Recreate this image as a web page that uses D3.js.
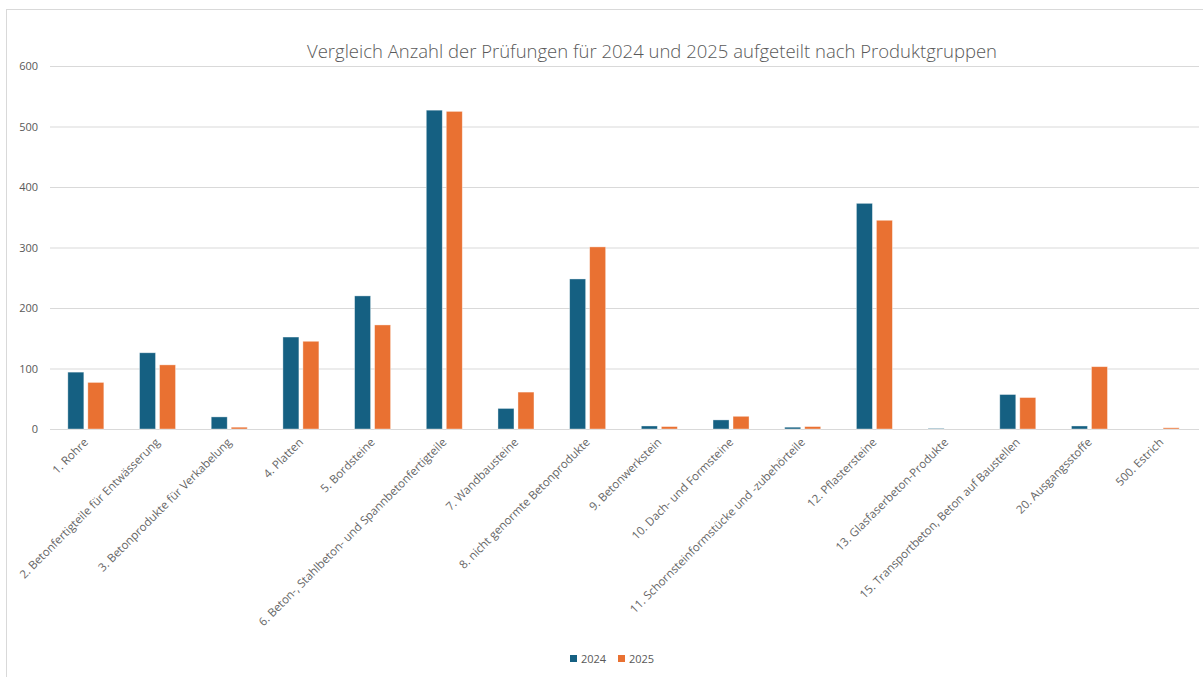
<!DOCTYPE html>
<html><head><meta charset="utf-8">
<script src="https://cdn.jsdelivr.net/npm/d3@7"></script>
<style>body{margin:0;background:#fff;}svg{display:block;font-family:"Open Sans",sans-serif;}</style>
</head><body><svg id="c" width="1203" height="677"></svg>
<script>
const categories = ["1. Rohre","2. Betonfertigteile für Entwässerung","3. Betonprodukte für Verkabelung","4. Platten","5. Bordsteine","6. Beton-, Stahlbeton- und Spannbetonfertigteile","7. Wandbausteine","8. nicht genormte Betonprodukte","9. Betonwerkstein","10. Dach- und Formsteine","11. Schornsteinformstücke und -zubehörteile","12. Pflastersteine","13. Glasfaserbeton-Produkte","15. Transportbeton, Beton auf Baustellen","20. Ausgangsstoffe","500. Estrich"];
const values2024 = [94,126,20,152,220,527,34,248,5,15,3,373,1,57,5,0];
const values2025 = [77,106,3,145,172,525,61,301,4,21,4,345,0,52,103,2];
const seriesNames = ["2024","2025"];
const yTicks = [0,100,200,300,400,500,600];
const title = "Vergleich Anzahl der Prüfungen für 2024 und 2025 aufgeteilt nach Produktgruppen";
const colors = ["#156082","#E97132"];

(function(){
const svg = d3.select("#c");
svg.append("rect").attr("x",6.5).attr("y",9.5).attr("width",1210).attr("height",700)
  .attr("fill","#fff").attr("stroke","#d9d9d9");

const mLeft=50, mRight=1197, mTop=66, mBottom=429;
const x = d3.scaleBand().domain(categories).range([mLeft,mRight]).paddingInner(0).paddingOuter(0);
const x1 = d3.scaleBand().domain(seriesNames).range([x.bandwidth()/2-18, x.bandwidth()/2+18]).paddingInner(0.2);
const y = d3.scaleLinear().domain([0,600]).range([mBottom,mTop]);

svg.append("text").attr("x",652).attr("y",58).attr("text-anchor","middle")
  .attr("font-size",18.5).attr("font-weight",300).attr("fill","#595959").text(title);

const ya = svg.append("g").attr("transform",`translate(${mLeft},0)`)
  .call(d3.axisLeft(y).tickValues(yTicks).tickSize(-(1199-mLeft)).tickPadding(12));
ya.select(".domain").remove();
ya.selectAll(".tick line").attr("stroke","#d9d9d9");
ya.selectAll(".tick text").attr("fill","#595959").attr("font-size",11).attr("font-family","'Open Sans',sans-serif");

const data = categories.map((c,i)=>({c, v:[values2024[i],values2025[i]]}));
const g = svg.append("g");
const grp = g.selectAll("g").data(data).join("g").attr("transform",d=>`translate(${x(d.c)},0)`);
grp.selectAll("rect").data(d=>d.v.map((v,j)=>({s:seriesNames[j],v,j}))).join("rect")
  .attr("x",d=>x1(d.s)).attr("width",x1.bandwidth())
  .attr("y",d=>y(d.v)).attr("height",d=>y(0)-y(d.v))
  .attr("fill",d=>colors[d.j]).attr("stroke","#ffffff").attr("stroke-opacity",0.5).attr("stroke-width",0.75);

const xa = svg.append("g").attr("transform",`translate(0,${mBottom})`)
  .call(d3.axisBottom(x).tickSize(0).tickPadding(0));
xa.select(".domain").remove();
xa.selectAll(".tick text").attr("fill","#666666").attr("font-size",11.5).attr("font-family","'Open Sans',sans-serif")
  .attr("text-anchor","end").attr("dy",0).attr("transform","translate(3,14) rotate(-45)");

const lg = svg.append("g").attr("transform","translate(570,660)");
seriesNames.forEach((s,i)=>{
  const gi = lg.append("g").attr("transform",`translate(${i*48},0)`);
  gi.append("rect").attr("x",0).attr("y",-5).attr("width",7).attr("height",7).attr("fill",colors[i]);
  gi.append("text").attr("x",11).attr("y",2.5).attr("font-size",11).attr("fill","#595959").text(s);
});
})();
</script></body></html>
